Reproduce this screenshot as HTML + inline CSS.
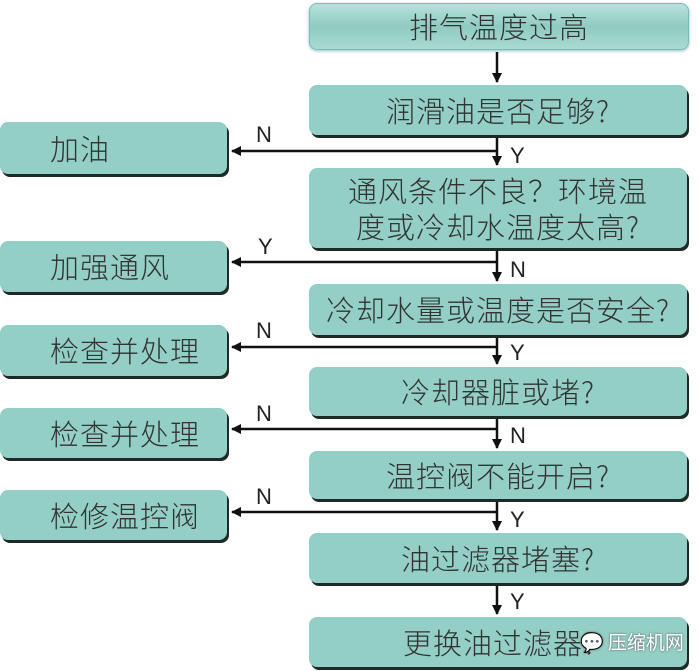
<!DOCTYPE html>
<html><head><meta charset="utf-8"><style>
body{margin:0;width:699px;height:671px;background:#fff;position:relative;overflow:hidden;font-family:"Liberation Sans","Noto Sans CJK SC",sans-serif;}
.b{position:absolute;background:#93cfc6;border-radius:8px;box-shadow:2px 3px 0 #1d2a28;color:#333;font-size:29px;letter-spacing:1px;line-height:1.25;display:flex;align-items:center;justify-content:center;text-align:center;font-family:"Noto Sans CJK SC",sans-serif;font-weight:300;}
.l{justify-content:flex-start;padding-left:50px;box-sizing:border-box;}
.lb{position:absolute;font-size:22px;color:#222;}
</style></head><body>
<div class="b" style="left:309px;top:3px;width:378px;height:45px;background:linear-gradient(#b8e2db,#8fcbc2 50%,#a9dad2);box-shadow:0 1px 3px #9bb;border:1px solid #7bb">排气温度过高</div>
<div class="b" style="left:309px;top:85px;width:378px;height:50px">润滑油是否足够?</div>
<div class="b" style="left:309px;top:168px;width:378px;height:80px">通风条件不良？环境温<br>度或冷却水温度太高?</div>
<div class="b" style="left:309px;top:284px;width:378px;height:51px">冷却水量或温度是否安全?</div>
<div class="b" style="left:309px;top:367px;width:378px;height:49px">冷却器脏或堵?</div>
<div class="b" style="left:309px;top:451px;width:378px;height:48px">温控阀不能开启?</div>
<div class="b" style="left:309px;top:533px;width:378px;height:50px">油过滤器堵塞?</div>
<div class="b" style="left:309px;top:617px;width:378px;height:50px;justify-content:flex-start;padding-left:94px;box-sizing:border-box">更换油过滤器?</div>
<div style="position:absolute;left:580px;top:628px;font-size:19px;color:#fff;text-shadow:0 0 2px #555;font-family:'Noto Sans CJK SC',sans-serif">💬 压缩机网</div>
<div class="b l" style="left:0;top:122px;width:227px;height:52px">加油</div>
<div class="b l" style="left:0;top:241px;width:227px;height:51px">加强通风</div>
<div class="b l" style="left:0;top:325px;width:227px;height:51px">检查并处理</div>
<div class="b l" style="left:0;top:408px;width:227px;height:50px">检查并处理</div>
<div class="b l" style="left:0;top:490px;width:227px;height:50px">检修温控阀</div>
<svg width="699" height="671" style="position:absolute;left:0;top:0">
<defs><marker id="a" markerWidth="10" markerHeight="10" refX="9" refY="5" orient="auto" markerUnits="userSpaceOnUse"><path d="M0,0L10,5L0,10z" fill="#111"/></marker></defs>
<g stroke="#111" stroke-width="2.5" fill="none">
<line x1="497" y1="52" x2="497" y2="82" marker-end="url(#a)"/>
<line x1="497" y1="138" x2="497" y2="165" marker-end="url(#a)"/>
<line x1="497" y1="151" x2="232" y2="151" marker-end="url(#a)"/>
<line x1="497" y1="251" x2="497" y2="281" marker-end="url(#a)"/>
<line x1="497" y1="262" x2="232" y2="262" marker-end="url(#a)"/>
<line x1="497" y1="338" x2="497" y2="364" marker-end="url(#a)"/>
<line x1="497" y1="347" x2="232" y2="347" marker-end="url(#a)"/>
<line x1="497" y1="419" x2="497" y2="448" marker-end="url(#a)"/>
<line x1="497" y1="429" x2="232" y2="429" marker-end="url(#a)"/>
<line x1="497" y1="502" x2="497" y2="530" marker-end="url(#a)"/>
<line x1="497" y1="512" x2="232" y2="512" marker-end="url(#a)"/>
<line x1="497" y1="586" x2="497" y2="614" marker-end="url(#a)"/>
</g></svg>
<div class="lb" style="left:256px;top:122px">N</div><div class="lb" style="left:510px;top:143px">Y</div>
<div class="lb" style="left:258px;top:234px">Y</div><div class="lb" style="left:510px;top:257px">N</div>
<div class="lb" style="left:256px;top:318px">N</div><div class="lb" style="left:510px;top:340px">Y</div>
<div class="lb" style="left:256px;top:401px">N</div><div class="lb" style="left:510px;top:423px">N</div>
<div class="lb" style="left:256px;top:484px">N</div><div class="lb" style="left:510px;top:507px">Y</div>
<div class="lb" style="left:510px;top:589px">Y</div>
</body></html>
